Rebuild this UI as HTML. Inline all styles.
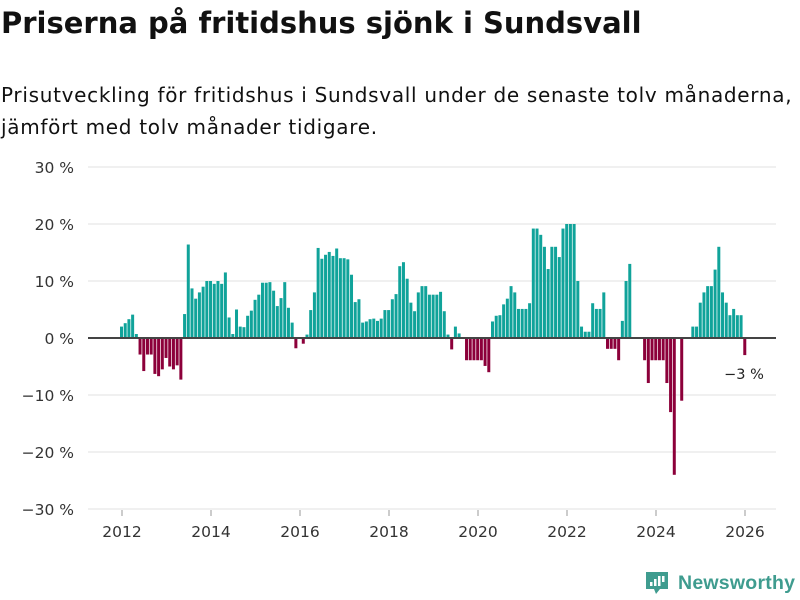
<!DOCTYPE html>
<html><head><meta charset="utf-8"><style>
body{margin:0;background:#fff;width:800px;height:600px;overflow:hidden;font-family:"DejaVu Sans","Liberation Sans",sans-serif;color:#111}
h1{position:absolute;left:1px;top:6px;margin:0;font-size:29px;font-weight:bold;letter-spacing:0px;white-space:nowrap}
.sub{position:absolute;left:1px;top:79px;margin:0;font-size:20px;line-height:32px;width:800px;white-space:nowrap;letter-spacing:0.7px}
svg{position:absolute;left:0;top:0}
</style></head><body>
<h1>Priserna på fritidshus sjönk i Sundsvall</h1>
<p class="sub">Prisutveckling för fritidshus i Sundsvall under de senaste tolv månaderna,<br>jämfört med tolv månader tidigare.</p>
<svg id="chart" width="800" height="600" font-family="DejaVu Sans, sans-serif"></svg>
<script>
const startYear = 2012;
const values = [2,2.6,3.3,4.1,0.7,-2.9,-5.8,-2.9,-2.9,-6.3,-6.7,-5.5,-3.5,-5,-5.5,-4.8,-7.3,
4.2,16.4,8.7,6.9,8,9,10,10,9.5,10,9.5,11.5,3.6,0.7,5,2,1.9,3.9,4.8,6.7,7.6,9.7,9.7,9.8,8.3,5.6,7,9.8,5.3,2.7,-1.8,0,
-1,0.6,4.9,8,15.8,13.9,14.6,15.1,14.4,15.7,14,14,13.8,11.1,6.3,6.8,2.7,2.9,3.3,3.4,3,3.4,4.9,4.9,6.8,7.7,12.6,13.3,10.4,6.2,4.7,8,9.1,9.1,7.6,7.6,7.6,8.1,4.7,0.6,-2,2,0.8,0,-3.9,-3.9,-3.9,-3.9,-3.9,-4.9,-6,2.9,3.9,
4,5.9,6.9,9.1,8,5.1,5.1,5.1,6.1,19.2,19.2,18.1,16,12.1,16,16,14.2,19.2,20,20,20,10,2,1.1,1.1,6.1,5.1,5.1,8,
-1.9,-1.9,-1.9,-3.9,3,10,13,0,0,0,-3.9,-7.9,-3.9,-3.9,-3.9,-3.9,-7.9,-13,-24,0,-11,0,0,2,2,6.2,8,9.1,9.1,12,16,8,6.2,4,5.1,4,4,-3];
const yTicks = [30,20,10,0,-10,-20,-30];
const xTicks = [2012,2014,2016,2018,2020,2022,2024,2026];
const lastLabel = "\u22123 %";

const svg = document.getElementById('chart');
const NS = 'http://www.w3.org/2000/svg';
const y = v => 338 - v * 5.7;
const x = m => 120 + m * 3.71;
const xYear = yr => 122 + (yr - startYear) * 44.5;
function mk(t, a){const e=document.createElementNS(NS,t);for(const k in a)e.setAttribute(k,a[k]);svg.appendChild(e);return e;}
yTicks.forEach(v=>{
  if(v!==0){const g=mk('line',{x1:88,x2:776,y1:y(v),y2:y(v),stroke:'#e2e2e2','stroke-width':1});
  
  }
  const t=mk('text',{x:74,y:y(v)+6,'text-anchor':'end','font-size':15.5,fill:'#333'});
  t.textContent=(v<0?'\u2212'+(-v):v)+' %';
  
  
});
xTicks.forEach(yr=>{
  const t=mk('text',{x:xYear(yr),y:537,'text-anchor':'middle','font-size':15.5,fill:'#333'});
  t.textContent=yr;
  
  
  const k=mk('line',{x1:xYear(yr),x2:xYear(yr),y1:510,y2:516,stroke:'#999'});
  
  
});
values.forEach((v,i)=>{
  if(v===0)return;
  const r=mk('rect',{x:x(i),width:3,y:Math.min(y(v),y(0)),height:Math.abs(y(v)-y(0)),fill:v>0?'#10a39a':'#8c003a'});
  
  
});
const z=mk('line',{x1:88,x2:776,y1:y(0),y2:y(0),stroke:'#444','stroke-width':2});


const ll=mk('text',{x:744,y:379,'text-anchor':'middle','font-size':14.5,fill:'#222'});
ll.textContent=lastLabel;


</script>
<svg width="800" height="600" style="pointer-events:none">
<path d="M646 572 h22 v17 h-8 l-4 5 l-2 -5 h-8 z" fill="#3f9c8f"/>
<rect x="650" y="582" width="2.5" height="4" fill="#fff"/>
<rect x="654" y="579" width="2.5" height="7" fill="#fff"/>
<rect x="658" y="576" width="2.5" height="10" fill="#fff"/>
<rect x="662" y="576" width="2.5" height="6" fill="#fff"/>
<text x="678" y="589" font-size="19.5" font-weight="bold" fill="#3f9c8f" font-family="Liberation Sans, sans-serif" textLength="117">Newsworthy</text>
</svg>
</body></html>
